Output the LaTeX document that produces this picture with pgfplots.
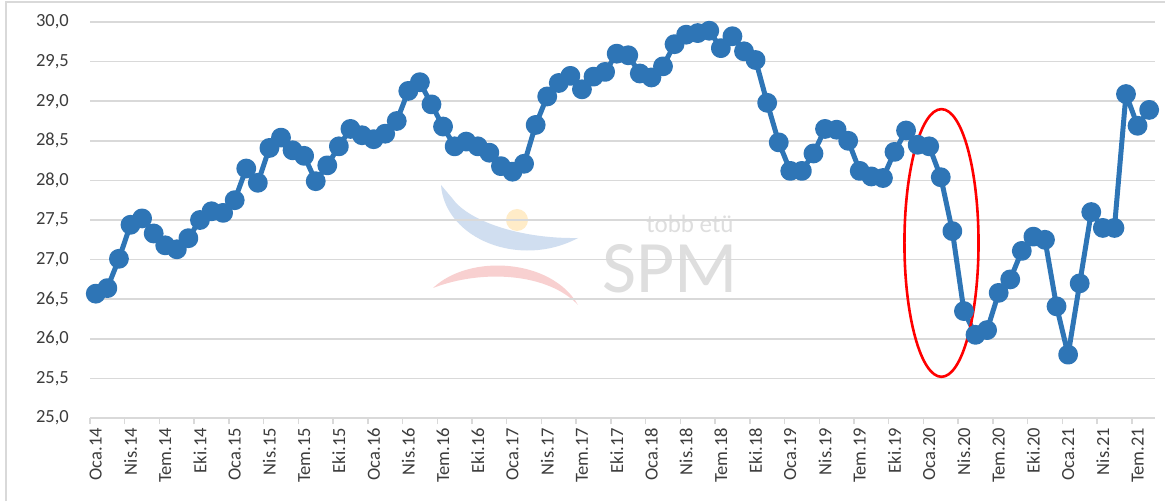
\documentclass[border=0pt]{standalone}
\usepackage{pgfplots}
\pgfplotsset{compat=1.18}
\usepackage{pgfplotstable}
\usepackage{fontspec}
\setmainfont{Carlito}
\definecolor{lineblue}{RGB}{46,117,182}
\definecolor{gridgray}{RGB}{217,217,217}
\definecolor{txtgray}{RGB}{60,60,60}
\definecolor{wmgray}{RGB}{222,222,222}
\definecolor{wmblue}{RGB}{208,222,240}
\definecolor{wmpink}{RGB}{248,208,208}
\definecolor{wmyellow}{RGB}{255,236,200}

\pgfplotstableread{
x y
0 26.57
1 26.64
2 27.01
3 27.44
4 27.52
5 27.33
6 27.18
7 27.13
8 27.27
9 27.50
10 27.61
11 27.59
12 27.75
13 28.15
14 27.97
15 28.41
16 28.54
17 28.38
18 28.31
19 27.99
20 28.19
21 28.43
22 28.65
23 28.57
24 28.52
25 28.59
26 28.75
27 29.13
28 29.24
29 28.96
30 28.68
31 28.43
32 28.49
33 28.43
34 28.35
35 28.18
36 28.11
37 28.21
38 28.70
39 29.06
40 29.23
41 29.32
42 29.15
43 29.31
44 29.37
45 29.60
46 29.58
47 29.35
48 29.30
49 29.44
50 29.72
51 29.84
52 29.86
53 29.89
54 29.67
55 29.82
56 29.63
57 29.52
58 28.98
59 28.48
60 28.12
61 28.12
62 28.34
63 28.65
64 28.64
65 28.50
66 28.12
67 28.05
68 28.03
69 28.36
70 28.63
71 28.45
72 28.43
73 28.04
74 27.36
75 26.35
76 26.05
77 26.11
78 26.58
79 26.75
80 27.11
81 27.29
82 27.25
83 26.41
84 25.80
85 26.70
86 27.60
87 27.40
88 27.40
89 29.09
90 28.69
91 28.89
}\datatable

\begin{document}
\begin{tikzpicture}[x=1pt,y=1pt]
\useasboundingbox (0,0) rectangle (1165,501);
\fill[white] (0,0) rectangle (1165,501);
\draw[gridgray, line width=1.5pt] (6,0) -- (6,499) -- (1165,499);
% watermark
\fill[wmblue] (441,316) .. controls (445,262) and (520,232) .. (578,263)
  .. controls (520,262) and (468,280) .. (452,303) -- cycle;
\fill[wmpink] (433,213) .. controls (470,248) and (552,242) .. (578,196)
  .. controls (548,228) and (482,232) .. cycle;
\fill[wmyellow] (517,281) circle (11);
\node[anchor=base, inner sep=0, text=wmgray, font=\fontsize{74}{76}\selectfont] at (670,208) {SPM};
\node[anchor=base, inner sep=0, text=wmgray, font=\fontsize{25}{27}\selectfont] at (690,268) {tobb etü};
\begin{axis}[
  at={(90pt,83pt)}, anchor=south west,
  width=1065pt, height=396pt, scale only axis,
  xmin=-0.5, xmax=91.5, ymin=25, ymax=30,
  clip=false,
  axis x line*=bottom, axis y line*=left,
  x axis line style={gridgray, line width=1.5pt, -},
  y axis line style={draw=none},
  ytick={25,25.5,...,30},
  ymajorgrids,
  grid style={gridgray, line width=1.5pt},
  ytick style={draw=none},
  xtick={-0.5,2.5,...,89.5},
  xticklabels={},
  tick align=outside,
  major tick length=6pt,
  xtick style={gridgray, line width=1.5pt},
  extra x ticks={0,3,...,90},
  extra x tick labels={Oca.14,Nis.14,Tem.14,Eki.14,Oca.15,Nis.15,Tem.15,Eki.15,Oca.16,Nis.16,Tem.16,Eki.16,Oca.17,Nis.17,Tem.17,Eki.17,Oca.18,Nis.18,Tem.18,Eki.18,Oca.19,Nis.19,Tem.19,Eki.19,Oca.20,Nis.20,Tem.20,Eki.20,Oca.21,Nis.21,Tem.21},
  extra x tick style={major tick length=0pt, xtick style={draw=none}},
  xticklabel style={rotate=90, anchor=east, inner sep=0pt, xshift=0pt},
  xticklabel shift=10pt,
  yticklabel style={anchor=east, inner sep=0pt, /pgf/number format/.cd, fixed, fixed zerofill, precision=1, use comma},
  yticklabel shift=15pt,
  /pgf/number format/assume math mode=true,
  ticklabel style={font=\fontsize{18.5}{20}\selectfont, text=txtgray},
]
\addplot[lineblue, line width=5pt, line join=round, line cap=round, mark=*, mark size=7.4pt, mark options={solid, fill=lineblue, draw=none}] table[x=x,y=y]{\datatable};
\draw[red, line width=2.6pt] (axis cs:73.06,27.21) ellipse [x radius=3.2, y radius=1.69];
\end{axis}
\end{tikzpicture}
\end{document}
